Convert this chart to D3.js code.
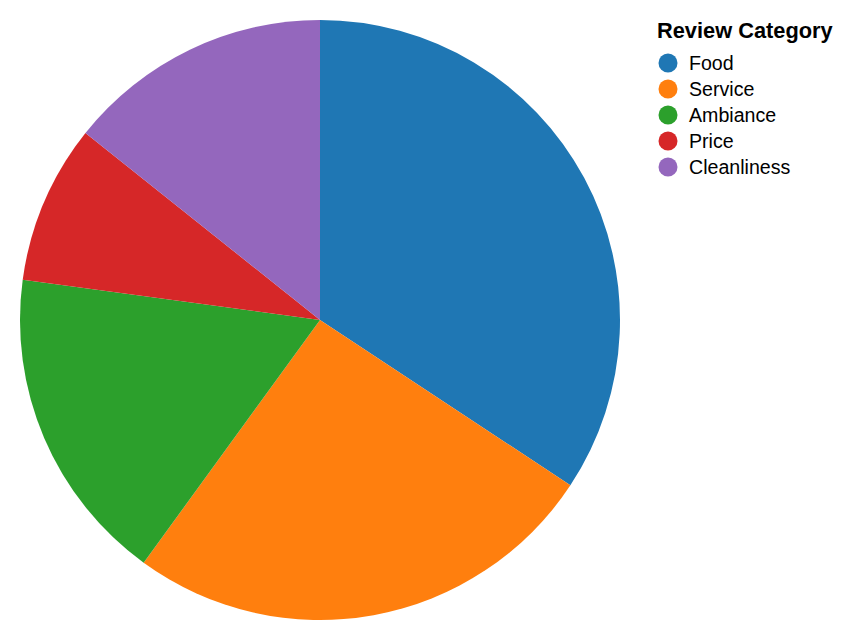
<!DOCTYPE html>
<html>
<head>
<meta charset="utf-8">
<script src="https://cdn.jsdelivr.net/npm/d3@7"></script>
<style>
  html, body { margin: 0; padding: 0; background: #fff; }
  svg { display: block; }
</style>
</head>
<body>
<svg id="chart" width="854" height="640"></svg>
<script>
const categories = ["Food", "Service", "Ambiance", "Price", "Cleanliness"];
const values = [120, 90, 60, 30, 50];
const colors = ["#1f77b4", "#ff7f0e", "#2ca02c", "#d62728", "#9467bd"];
const legendTitle = "Review Category";

const svg = d3.select("#chart");
const cx = 320, cy = 320, r = 300;

const color = d3.scaleOrdinal().domain(categories).range(colors);
const data = categories.map((c, i) => ({ category: c, value: values[i] }));

const pie = d3.pie().sort(null).value(d => d.value).startAngle(0).endAngle(2 * Math.PI);
const arc = d3.arc().innerRadius(0).outerRadius(r);

svg.append("g")
  .attr("transform", `translate(${cx},${cy})`)
  .selectAll("path")
  .data(pie(data))
  .join("path")
  .attr("d", arc)
  .attr("fill", d => color(d.data.category));

const legend = svg.append("g").attr("transform", "translate(657,0)");
legend.append("text")
  .attr("x", 0).attr("y", 38)
  .attr("font-family", "Liberation Sans, Arial, Helvetica, sans-serif")
  .attr("font-weight", "bold")
  .attr("font-size", 21.8)
  .attr("fill", "#000")
  .text(legendTitle);

const row = d3.scaleBand().domain(categories).range([50, 180]);
const items = legend.selectAll("g.item")
  .data(categories)
  .join("g")
  .attr("class", "item")
  .attr("transform", d => `translate(0,${row(d) + row.bandwidth() / 2})`);

items.append("circle")
  .attr("cx", 11).attr("cy", 0).attr("r", 9.5)
  .attr("fill", d => color(d));

items.append("text")
  .attr("x", 32).attr("y", 6.8)
  .attr("font-family", "Liberation Sans, Arial, Helvetica, sans-serif")
  .attr("font-size", 19.6)
  .attr("fill", "#000")
  .text(d => d);
</script>
</body>
</html>
